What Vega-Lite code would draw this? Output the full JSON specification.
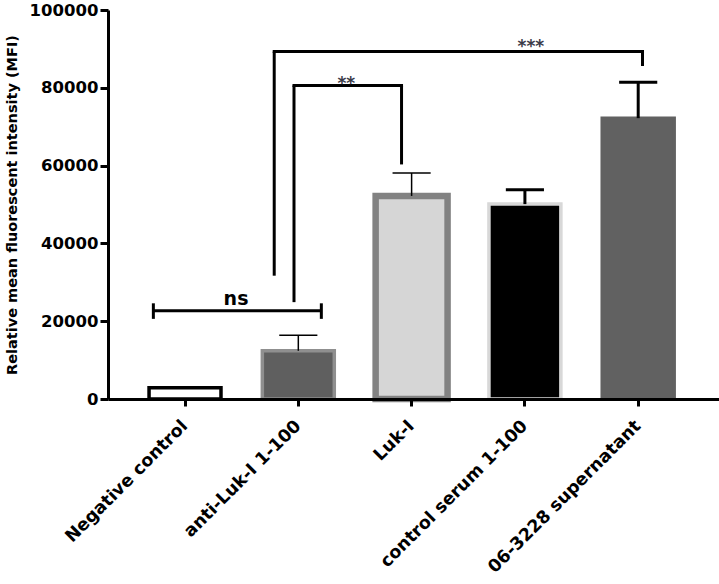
{
  "$schema": "https://vega.github.io/schema/vega-lite/v6.json",
  "width": 611,
  "height": 389,
  "autosize": {"type": "none"},
  "padding": {"left": 108, "top": 10, "right": 0, "bottom": 185},
  "background": "white",
  "config": {"view": {"stroke": null}, "font": "DejaVu Sans"},
  "datasets": {
    "bars": [
      {"group": "Negative control", "mfi": 2900, "upper": null},
      {"group": "anti-Luk-I 1-100", "mfi": 12400, "upper": 16400},
      {"group": "Luk-I", "mfi": 52200, "upper": 58100},
      {"group": "control serum 1-100", "mfi": 50100, "upper": 53800},
      {"group": "06-3228 supernatant", "mfi": 72200, "upper": 81400}
    ]
  },
  "layer": [
    {
      "data": {"name": "bars"},
      "transform": [{"filter": {"not": {"field": "group", "equal": "Luk-I"}}}],
      "mark": {"type": "bar", "strokeWidth": 3.5},
      "encoding": {
        "x": {
          "field": "group", "type": "nominal", "sort": null, "title": null,
          "scale": {"type": "band", "domain": ["Negative control", "anti-Luk-I 1-100", "Luk-I", "control serum 1-100", "06-3228 supernatant"], "paddingInner": 0.365, "paddingOuter": 0.379, "align": 0.478},
          "axis": {"title": null, "bandPosition": 0.5, "labelAngle": -45, "labelAlign": "right", "labelBaseline": "middle", "labelFont": "DejaVu Sans", "labelFontWeight": "bold", "labelFontSize": 17.5, "labelColor": "#000000", "labelLimit": 400, "labelPadding": 17, "labelOverlap": false, "tickColor": "#000000", "tickWidth": 3, "tickSize": 7, "domainColor": "#000000", "domainWidth": 3, "zindex": 1}
        },
        "y": {
          "field": "mfi", "type": "quantitative", "title": "Relative mean fluorescent intensity (MFI)",
          "scale": {"domain": [0, 100000], "nice": false},
          "axis": {"title": "Relative mean fluorescent intensity (MFI)", "titleFont": "DejaVu Sans", "titleFontSize": 14.5, "titleFontWeight": "bold", "titleColor": "#000000", "titlePadding": 10, "values": [0, 20000, 40000, 60000, 80000, 100000], "format": "d", "labelFont": "DejaVu Sans", "labelFontSize": 16.5, "labelFontWeight": "bold", "labelColor": "#000000", "labelPadding": 2, "tickSize": 8, "tickWidth": 3, "tickColor": "#000000", "domainWidth": 3, "domainColor": "#000000", "grid": false, "zindex": 1}
        },
        "fill": {"field": "group", "type": "nominal", "legend": null, "scale": {"domain": ["Negative control", "anti-Luk-I 1-100", "Luk-I", "control serum 1-100", "06-3228 supernatant"], "range": ["#ffffff", "#5f5f5f", "#d6d6d6", "#000000", "#616161"]}},
        "stroke": {"field": "group", "type": "nominal", "legend": null, "scale": {"domain": ["Negative control", "anti-Luk-I 1-100", "Luk-I", "control serum 1-100", "06-3228 supernatant"], "range": ["#000000", "#8f8f8f", "#828282", "#d8d8d8", "#616161"]}}
      }
    },
    {
      "data": {"name": "bars"},
      "transform": [{"filter": {"field": "group", "equal": "Luk-I"}}],
      "mark": {"type": "bar", "strokeWidth": 6.5},
      "encoding": {
        "x": {"field": "group", "type": "nominal"},
        "y": {"field": "mfi", "type": "quantitative"},
        "fill": {"field": "group", "type": "nominal", "legend": null},
        "stroke": {"field": "group", "type": "nominal", "legend": null}
      }
    },
    {
      "data": {"name": "bars"},
      "transform": [{"filter": {"field": "group", "oneOf": ["anti-Luk-I 1-100", "Luk-I"]}}],
      "mark": {"type": "rule", "strokeWidth": 1.5, "color": "#000000"},
      "encoding": {
        "x": {"field": "group", "type": "nominal"},
        "y": {"field": "mfi", "type": "quantitative"},
        "y2": {"field": "upper"}
      }
    },
    {
      "data": {"name": "bars"},
      "transform": [{"filter": {"field": "group", "oneOf": ["anti-Luk-I 1-100", "Luk-I"]}}],
      "mark": {"type": "rule", "strokeWidth": 1.5, "color": "#000000"},
      "encoding": {
        "x": {"field": "group", "type": "nominal", "bandPosition": 0.235},
        "x2": {"field": "group", "bandPosition": 0.765},
        "y": {"field": "upper", "type": "quantitative"}
      }
    },
    {
      "data": {"name": "bars"},
      "transform": [{"filter": {"field": "group", "oneOf": ["control serum 1-100", "06-3228 supernatant"]}}],
      "mark": {"type": "rule", "strokeWidth": 3, "color": "#000000"},
      "encoding": {
        "x": {"field": "group", "type": "nominal"},
        "y": {"field": "mfi", "type": "quantitative"},
        "y2": {"field": "upper"}
      }
    },
    {
      "data": {"name": "bars"},
      "transform": [{"filter": {"field": "group", "oneOf": ["control serum 1-100", "06-3228 supernatant"]}}],
      "mark": {"type": "rule", "strokeWidth": 3, "color": "#000000"},
      "encoding": {
        "x": {"field": "group", "type": "nominal", "bandPosition": 0.235},
        "x2": {"field": "group", "bandPosition": 0.765},
        "y": {"field": "upper", "type": "quantitative"}
      }
    },
    {
      "data": {"values": [{"from": "Negative control", "to": "anti-Luk-I 1-100", "y": 22700}]},
      "mark": {"type": "rule", "strokeWidth": 3, "color": "#000000"},
      "encoding": {
        "x": {"field": "from", "type": "nominal", "bandPosition": 0.06},
        "x2": {"field": "to", "bandPosition": 0.82},
        "y": {"field": "y", "type": "quantitative"}
      }
    },
    {
      "data": {"values": [{"g": "Negative control", "lo": 20600, "hi": 24600}]},
      "mark": {"type": "rule", "strokeWidth": 3, "color": "#000000"},
      "encoding": {
        "x": {"field": "g", "type": "nominal", "bandPosition": 0.06},
        "y": {"field": "lo", "type": "quantitative"},
        "y2": {"field": "hi"}
      }
    },
    {
      "data": {"values": [{"g": "anti-Luk-I 1-100", "lo": 20600, "hi": 24600}]},
      "mark": {"type": "rule", "strokeWidth": 3, "color": "#000000"},
      "encoding": {
        "x": {"field": "g", "type": "nominal", "bandPosition": 0.82},
        "y": {"field": "lo", "type": "quantitative"},
        "y2": {"field": "hi"}
      }
    },
    {
      "data": {"values": [{"from": "anti-Luk-I 1-100", "to": "Luk-I", "y": 80600}]},
      "mark": {"type": "rule", "strokeWidth": 3, "color": "#000000", "strokeCap": "square"},
      "encoding": {
        "x": {"field": "from", "type": "nominal", "bandPosition": 0.44},
        "x2": {"field": "to", "bandPosition": 0.36},
        "y": {"field": "y", "type": "quantitative"}
      }
    },
    {
      "data": {"values": [{"g": "anti-Luk-I 1-100", "lo": 24900, "hi": 80600}]},
      "mark": {"type": "rule", "strokeWidth": 3, "color": "#000000"},
      "encoding": {
        "x": {"field": "g", "type": "nominal", "bandPosition": 0.44},
        "y": {"field": "lo", "type": "quantitative"},
        "y2": {"field": "hi"}
      }
    },
    {
      "data": {"values": [{"g": "Luk-I", "lo": 60300, "hi": 80600}]},
      "mark": {"type": "rule", "strokeWidth": 3, "color": "#000000"},
      "encoding": {
        "x": {"field": "g", "type": "nominal", "bandPosition": 0.36},
        "y": {"field": "lo", "type": "quantitative"},
        "y2": {"field": "hi"}
      }
    },
    {
      "data": {"values": [{"from": "anti-Luk-I 1-100", "to": "06-3228 supernatant", "y": 89300}]},
      "mark": {"type": "rule", "strokeWidth": 3, "color": "#000000", "strokeCap": "square"},
      "encoding": {
        "x": {"field": "from", "type": "nominal", "bandPosition": 0.165},
        "x2": {"field": "to", "bandPosition": 0.56},
        "y": {"field": "y", "type": "quantitative"}
      }
    },
    {
      "data": {"values": [{"g": "anti-Luk-I 1-100", "lo": 31700, "hi": 89300}]},
      "mark": {"type": "rule", "strokeWidth": 3, "color": "#000000"},
      "encoding": {
        "x": {"field": "g", "type": "nominal", "bandPosition": 0.165},
        "y": {"field": "lo", "type": "quantitative"},
        "y2": {"field": "hi"}
      }
    },
    {
      "data": {"values": [{"g": "06-3228 supernatant", "lo": 85600, "hi": 89300}]},
      "mark": {"type": "rule", "strokeWidth": 3, "color": "#000000"},
      "encoding": {
        "x": {"field": "g", "type": "nominal", "bandPosition": 0.56},
        "y": {"field": "lo", "type": "quantitative"},
        "y2": {"field": "hi"}
      }
    },
    {
      "data": {"values": [{"g": "Negative control", "y": 24200, "label": "ns"}]},
      "mark": {"type": "text", "font": "DejaVu Sans", "fontSize": 19, "fontWeight": "bold", "color": "#000000", "align": "center", "baseline": "alphabetic", "dx": 51},
      "encoding": {
        "x": {"field": "g", "type": "nominal"},
        "y": {"field": "y", "type": "quantitative"},
        "text": {"field": "label"}
      }
    },
    {
      "data": {"values": [{"g": "anti-Luk-I 1-100", "y": 79800, "label": "**"}]},
      "mark": {"type": "text", "font": "DejaVu Sans", "fontSize": 17, "fontWeight": "bold", "color": "#3a3a48", "align": "center", "baseline": "alphabetic", "dx": 48},
      "encoding": {
        "x": {"field": "g", "type": "nominal"},
        "y": {"field": "y", "type": "quantitative"},
        "text": {"field": "label"}
      }
    },
    {
      "data": {"values": [{"g": "control serum 1-100", "y": 89300, "label": "***"}]},
      "mark": {"type": "text", "font": "DejaVu Sans", "fontSize": 17, "fontWeight": "bold", "color": "#3a3a48", "align": "center", "baseline": "alphabetic", "dx": 6},
      "encoding": {
        "x": {"field": "g", "type": "nominal"},
        "y": {"field": "y", "type": "quantitative"},
        "text": {"field": "label"}
      }
    }
  ]
}
